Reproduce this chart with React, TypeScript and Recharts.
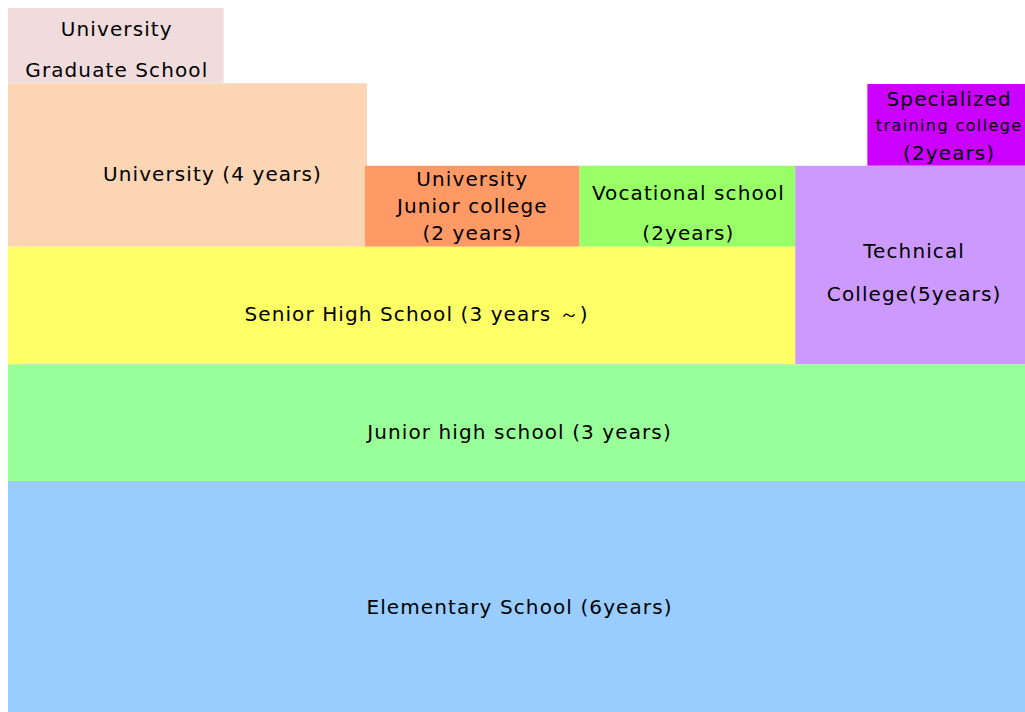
import { ComposedChart, XAxis, YAxis, ReferenceArea } from 'recharts'

// boxes on a 0-100 grid (x = share of width, y = height from the bottom)
const schools = ['graduate', 'university', 'juniorCollege', 'vocational', 'specialized', 'technical', 'senior', 'juniorHigh', 'elementary']
const xStart = [0, 0, 35.1, 56.2, 84.5, 77.4, 0, 0, 0]
const xEnd = [21.2, 35.3, 56.2, 77.4, 100, 100, 77.4, 100, 100]
const yStart = [89.3, 66.1, 66.1, 66.1, 77.6, 49.4, 49.4, 32.8, 0]
const yEnd = [100, 89.3, 77.6, 77.6, 89.2, 77.6, 66.1, 49.4, 32.8]
const labels = [
  ['University', 'Graduate School'],
  ['University (4 years)'],
  ['University', 'Junior college', '(2 years)'],
  ['Vocational school', '(2years)'],
  ['Specialized', 'training college', '(2years)'],
  ['Technical', 'College(5years)'],
  ['Senior High School (3 years ～)'],
  ['Junior high school (3 years)'],
  ['Elementary School (6years)'],
]

const colors = ['#F0DCDC', '#FCD5B5', '#FF9966', '#99FF66', '#CC00FF', '#CC99FF', '#FFFF66', '#99FF99', '#99CCFF']
// text layout per box: horizontal shift, vertical shift, line gap, font sizes
const labelDx = [1, 25, 0, 1, 3, 4, 15, 3, 3]
const labelDy = [4, 9, 0, 7, 1, 8, 9, 9, 10]
const lineGap = [41, 0, 27, 40, 27, 43, 0, 0, 0]
const fontSizes: number[][] = [[20], [20], [20], [20], [20, 16, 20], [20], [20], [20], [20]]

const MultiLabel = ({ viewBox, i }: { viewBox?: { x: number; y: number; width: number; height: number }; i: number }) => {
  if (!viewBox) return null
  const lines = labels[i]
  const cx = viewBox.x + viewBox.width / 2 + labelDx[i]
  const cy = viewBox.y + viewBox.height / 2 + labelDy[i]
  const top = cy - ((lines.length - 1) * lineGap[i]) / 2
  return (
    <g>
      {lines.map((t, k) => {
        const size = fontSizes[i][k] ?? fontSizes[i][0]
        return (
          <text
            key={k}
            x={cx}
            y={top + k * lineGap[i]}
            textAnchor="middle"
            dominantBaseline="central"
            fill="#000"
            fontSize={size}
            letterSpacing={size < 18 ? 1.4 : 1.1}
            fontFamily="'DejaVu Sans', sans-serif"
          >
            {t}
          </text>
        )
      })}
    </g>
  )
}

export default function App() {
  return (
    <div style={{ position: 'absolute', left: 0, top: 0, width: 1025, height: 712, background: '#fff' }}>
      <ComposedChart width={1025} height={712} margin={{ top: 8, right: 0, bottom: 0, left: 8 }}>
        <XAxis type="number" dataKey="x" domain={[0, 100]} hide allowDataOverflow />
        <YAxis type="number" dataKey="y" domain={[0, 100]} hide allowDataOverflow width={0} />
        {schools.map((s, i) => (
          <ReferenceArea
            key={s}
            x1={xStart[i]} x2={xEnd[i]}
            y1={yStart[i]} y2={yEnd[i]}
            fill={colors[i]} fillOpacity={1}
            stroke="none"
            ifOverflow="visible"
            label={<MultiLabel i={i} />}
          />
        ))}
      </ComposedChart>
    </div>
  )
}
